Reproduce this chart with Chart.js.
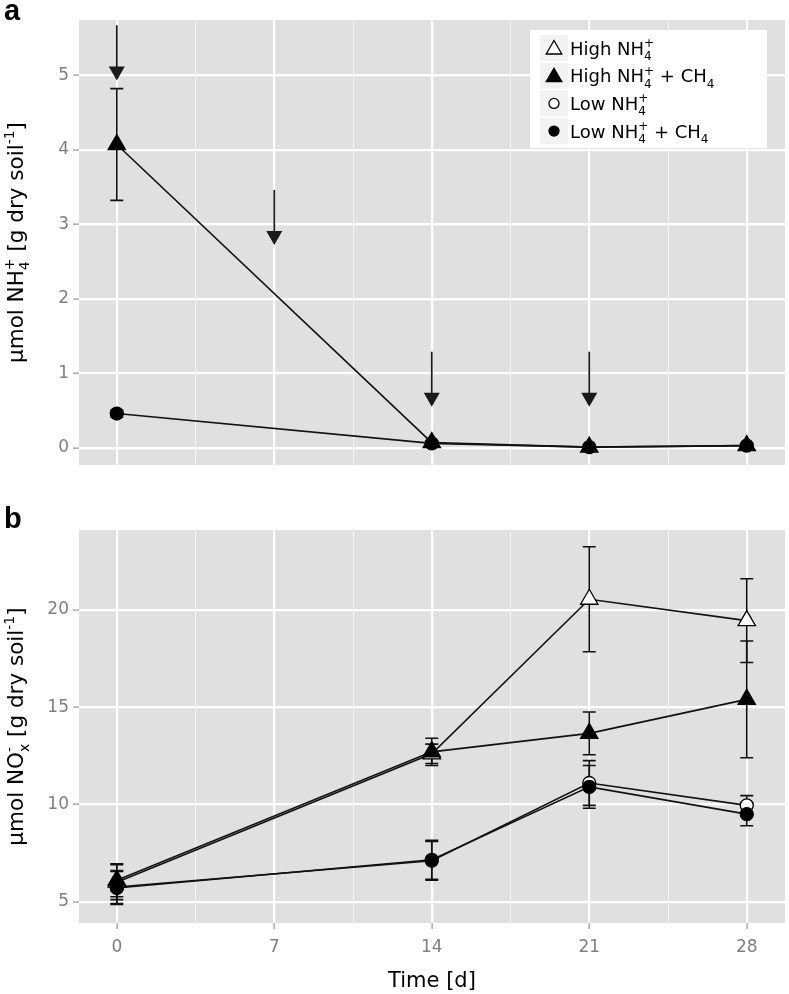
<!DOCTYPE html>
<html>
<head>
<meta charset="utf-8">
<script src="https://cdn.jsdelivr.net/npm/chart.js@4"></script>
<style>
  html, body { margin: 0; padding: 0; background: #fff; }
  #wrap { position: relative; width: 789px; height: 994px; }
  #chartA { position: absolute; left: 0; top: 0; }
  #chartB { position: absolute; left: 0; top: 490px; }
</style>
</head>
<body>
<div id="wrap">
  <canvas id="chartA" width="789" height="490"></canvas>
  <canvas id="chartB" width="789" height="504"></canvas>
</div>
<script>
const FONT = '"DejaVu Sans", Verdana, sans-serif';

// sampling days
const days = [0, 14, 21, 28];
const xTicks = [0, 3.5, 7, 10.5, 14, 17.5, 21, 24.5, 28];

// panel a: NH4+
const nh4HighCH4 = [4.07, 0.07, 0.01, 0.03];
const nh4HighCH4Err = [0.75, 0.02, 0.02, 0.02];
const nh4LowCH4 = [0.46, 0.06, 0.01, 0.03];
const nh4LowCH4Err = [0.05, 0.02, 0.02, 0.02];
const nh4Ticks = [0, 1, 2, 3, 4, 5];

// CH4 additions (arrows in panel a)
const arrowDays = [0, 7, 14, 21];
const arrowFrom = [5.67, 3.46, 1.29, 1.29];
const arrowTo = [4.93, 2.72, 0.55, 0.55];

// panel b: NOx-
const noxHigh = [6.0, 12.6, 20.55, 19.45];
const noxHighErr = [0.9, 0.5, 2.7, 2.15];
const noxHighCH4 = [6.1, 12.7, 13.65, 15.4];
const noxHighCH4Err = [0.85, 0.7, 1.1, 3.0];
const noxLow = [5.75, 7.1, 11.1, 9.95];
const noxLowErr = [0.85, 1.0, 1.15, 0.5];
const noxLowCH4 = [5.7, 7.15, 10.9, 9.5];
const noxLowCH4Err = [0.85, 1.0, 1.1, 0.6];
const noxTicks = [5, 10, 15, 20];

const seriesLabels = [
  'High NH_{4}^{+}',
  'High NH_{4}^{+} + CH_{4}',
  'Low NH_{4}^{+}',
  'Low NH_{4}^{+} + CH_{4}'
];

const mkHigh = {shape: 'triangle', fill: '#fff', r: 10};
const mkHighCH4 = {shape: 'triangle', fill: '#000', r: 10};
const mkLow = {shape: 'circle', fill: '#fff', r: 6.5};
const mkLowCH4 = {shape: 'circle', fill: '#000', r: 6.5};

// --- small rich text helper for sub/superscripts ---
function parseRich(s) {
  const out = [];
  const re = /([_^])\{([^}]*)\}/g;
  let last = 0, m;
  while ((m = re.exec(s))) {
    if (m.index > last) out.push({t: s.slice(last, m.index), k: 'n'});
    out.push({t: m[2], k: m[1] === '_' ? 'sub' : 'sup'});
    last = re.lastIndex;
  }
  if (last < s.length) out.push({t: s.slice(last), k: 'n'});
  return out;
}

function drawRich(ctx, s, x, y, size, color, align) {
  const parts = parseRich(s);
  const placed = [];
  let cx = 0, prev = null, gStart = 0, gW = 0;
  parts.forEach(p => {
    const fs = p.k === 'n' ? size : Math.round(size * 0.66);
    ctx.font = fs + 'px ' + FONT;
    const w = ctx.measureText(p.t).width;
    let px;
    if (prev && prev.k !== 'n' && p.k !== 'n' && prev.k !== p.k) {
      px = gStart;
      cx = gStart + Math.max(gW, w);
    } else {
      px = cx; gStart = cx; gW = w; cx += w;
    }
    const dy = p.k === 'sub' ? size * 0.3 : p.k === 'sup' ? -size * 0.42 : 0;
    placed.push({t: p.t, fs, x: px, dy});
    prev = p;
  });
  const off = align === 'center' ? -cx / 2 : 0;
  ctx.fillStyle = color;
  ctx.textBaseline = 'alphabetic';
  ctx.textAlign = 'left';
  placed.forEach(p => {
    ctx.font = p.fs + 'px ' + FONT;
    ctx.fillText(p.t, x + off + p.x, y + p.dy);
  });
}

function drawMarker(ctx, m, x, y, r) {
  ctx.beginPath();
  if (m.shape === 'triangle') {
    ctx.moveTo(x, y - r);
    ctx.lineTo(x + r * 0.866, y + r * 0.5);
    ctx.lineTo(x - r * 0.866, y + r * 0.5);
    ctx.closePath();
  } else {
    ctx.arc(x, y, r, 0, Math.PI * 2);
  }
  ctx.fillStyle = m.fill;
  ctx.fill();
  ctx.lineWidth = 1.3;
  ctx.strokeStyle = '#000';
  ctx.stroke();
}

// --- plugins ---
const panelBg = {
  id: 'panelBg',
  beforeDraw(chart) {
    const {ctx, chartArea: a} = chart;
    ctx.save();
    ctx.fillStyle = '#e0e0e0';
    ctx.fillRect(a.left, a.top, a.right - a.left, a.bottom - a.top);
    ctx.restore();
  }
};

const errorBars = {
  id: 'errorBars',
  beforeDatasetsDraw(chart) {
    const {ctx, scales: {x, y}} = chart;
    ctx.save();
    ctx.strokeStyle = '#111';
    ctx.lineWidth = 1.6;
    chart.data.datasets.forEach(ds => {
      if (!ds.errors) return;
      ds.data.forEach((p, i) => {
        const e = ds.errors[i];
        const px = x.getPixelForValue(p.x);
        const y1 = y.getPixelForValue(p.y - e);
        const y2 = y.getPixelForValue(p.y + e);
        ctx.beginPath();
        ctx.moveTo(px, y1); ctx.lineTo(px, y2);
        ctx.moveTo(px - 6.5, y1); ctx.lineTo(px + 6.5, y1);
        ctx.moveTo(px - 6.5, y2); ctx.lineTo(px + 6.5, y2);
        ctx.stroke();
      });
    });
    ctx.restore();
  }
};

const arrows = {
  id: 'arrows',
  afterDatasetsDraw(chart, args, opts) {
    const {ctx, scales: {x, y}} = chart;
    ctx.save();
    ctx.strokeStyle = '#1a1a1a';
    ctx.fillStyle = '#1a1a1a';
    ctx.lineWidth = 1.7;
    opts.days.forEach((d, i) => {
      const px = x.getPixelForValue(d);
      const top = y.getPixelForValue(opts.from[i]);
      const tip = y.getPixelForValue(opts.to[i]);
      ctx.beginPath();
      ctx.moveTo(px, top); ctx.lineTo(px, tip - 10);
      ctx.stroke();
      ctx.beginPath();
      ctx.moveTo(px - 8, tip - 14); ctx.lineTo(px + 8, tip - 14); ctx.lineTo(px, tip);
      ctx.closePath();
      ctx.fill();
    });
    ctx.restore();
  }
};

const legendBox = {
  id: 'legendBox',
  afterDraw(chart, args, opts) {
    const {ctx} = chart;
    ctx.save();
    ctx.fillStyle = '#fff';
    ctx.fillRect(opts.x, opts.y, opts.w, opts.h);
    opts.labels.forEach((lab, i) => {
      const cy = opts.y + 18 + i * 27.7;
      ctx.fillStyle = '#f2f2f2';
      ctx.fillRect(opts.x + 10, cy - 13, 28, 26);
      const m = opts.markers[i];
      drawMarker(ctx, m, opts.x + 24, cy + (m.shape === 'triangle' ? 1.5 : 0), m.shape === 'triangle' ? 9 : 5);
      drawRich(ctx, lab, opts.x + 40, cy + 6.5, 18, '#000', 'left');
    });
    ctx.restore();
  }
};

const panelText = {
  id: 'panelText',
  afterDraw(chart, args, opts) {
    const {ctx, chartArea: a} = chart;
    ctx.save();
    ctx.fillStyle = '#000';
    ctx.font = 'bold 29px "Liberation Sans", Arial, sans-serif';
    ctx.textBaseline = 'alphabetic';
    ctx.textAlign = 'left';
    ctx.fillText(opts.letter, 4, opts.letterY);
    ctx.translate(23, (a.top + a.bottom) / 2);
    ctx.rotate(-Math.PI / 2);
    drawRich(ctx, opts.yTitle, 0, 0, 21.5, '#000', 'center');
    ctx.restore();
  }
};

// --- helpers for scales and datasets ---
const isMajor = c => c.tick ? c.tick.value % 7 === 0 : true;

function noPad(s) {
  s.paddingLeft = 0; s.paddingRight = 0; s.paddingTop = 0; s.paddingBottom = 0;
}

function xScale(showLabels) {
  return {
    type: 'linear', min: -1.68, max: 29.7,
    afterBuildTicks: s => { s.ticks = xTicks.map(v => ({value: v})); },
    afterFit: s => { s.height = showLabels ? 71 : 25; noPad(s); },
    border: {display: false},
    grid: {
      color: c => isMajor(c) ? '#ffffff' : '#f4f4f4',
      lineWidth: c => isMajor(c) ? 2.2 : 1,
      drawTicks: showLabels,
      tickLength: 6,
      tickWidth: 1,
      tickColor: c => isMajor(c) ? '#7f7f7f' : 'rgba(0,0,0,0)'
    },
    ticks: {
      display: showLabels, autoSkip: false, maxRotation: 0, padding: 8,
      color: '#7f7f7f', font: {family: FONT, size: 17},
      callback: v => v % 7 === 0 ? String(v) : ''
    },
    title: {
      display: showLabels, text: 'Time [d]', color: '#000',
      font: {family: FONT, size: 21}, padding: {top: 0, bottom: 0}
    }
  };
}

function yScale(min, max, ticks) {
  return {
    type: 'linear', min, max,
    afterBuildTicks: s => { s.ticks = ticks.map(v => ({value: v})); },
    afterFit: s => { s.width = 79; noPad(s); },
    border: {display: false},
    grid: {color: '#ffffff', lineWidth: 2.2, drawTicks: true, tickLength: 6, tickWidth: 1, tickColor: '#7f7f7f'},
    ticks: {color: '#7f7f7f', font: {family: FONT, size: 17}, padding: 4}
  };
}

function series(vals, errs, mk, order) {
  return {
    data: days.map((d, i) => ({x: d, y: vals[i]})),
    errors: errs,
    borderColor: '#111', borderWidth: 1.6,
    pointStyle: mk.shape, pointRadius: mk.r, pointHoverRadius: mk.r,
    pointBackgroundColor: mk.fill, pointBorderColor: '#000', pointBorderWidth: 1.3,
    fill: false, tension: 0, order
  };
}

// --- panel a ---
new Chart(document.getElementById('chartA'), {
  type: 'line',
  data: {
    datasets: [
      series(nh4HighCH4, nh4HighCH4Err, mkHighCH4, 1),
      series(nh4LowCH4, nh4LowCH4Err, mkLowCH4, 2)
    ]
  },
  options: {
    responsive: false, animation: false,
    layout: {autoPadding: false, padding: {top: 20, right: 4, left: 0, bottom: 0}},
    scales: {x: xScale(false), y: yScale(-0.23, 5.74, nh4Ticks)},
    plugins: {
      legend: {display: false}, tooltip: {enabled: false},
      arrows: {days: arrowDays, from: arrowFrom, to: arrowTo},
      legendBox: {x: 530, y: 30, w: 237, h: 118, labels: seriesLabels, markers: [mkHigh, mkHighCH4, mkLow, mkLowCH4]},
      panelText: {letter: 'a', letterY: 20, yTitle: 'µmol NH_{4}^{+} [g dry soil^{-1}]'}
    }
  },
  plugins: [panelBg, errorBars, arrows, legendBox, panelText]
});

// --- panel b ---
new Chart(document.getElementById('chartB'), {
  type: 'line',
  data: {
    datasets: [
      series(noxHigh, noxHighErr, mkHigh, 3),
      series(noxHighCH4, noxHighCH4Err, mkHighCH4, 1),
      series(noxLow, noxLowErr, mkLow, 4),
      series(noxLowCH4, noxLowCH4Err, mkLowCH4, 2)
    ]
  },
  options: {
    responsive: false, animation: false,
    layout: {autoPadding: false, padding: {top: 40, right: 4, left: 0, bottom: 0}},
    scales: {x: xScale(true), y: yScale(3.9, 24.11, noxTicks)},
    plugins: {
      legend: {display: false}, tooltip: {enabled: false},
      panelText: {letter: 'b', letterY: 38, yTitle: 'µmol NO_{x}^{-} [g dry soil^{-1}]'}
    }
  },
  plugins: [panelBg, errorBars, panelText]
});
</script>
</body>
</html>
